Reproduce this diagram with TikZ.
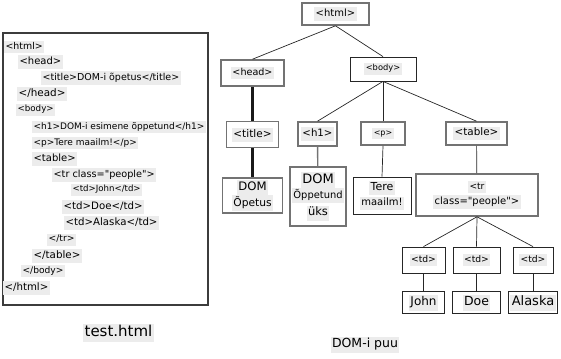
\documentclass[tikz,border=0pt]{standalone}
\usepackage{fontspec}
\setmainfont{DejaVu Sans}[Ligatures=TeXOff]
\usepackage{xcolor}
\usepackage{tikz}
\usetikzlibrary{positioning}
\definecolor{boxgray}{RGB}{115,115,115}
\definecolor{hlgray}{RGB}{236,236,236}
\definecolor{frameline}{RGB}{60,60,60}
\newcommand{\sz}[1]{\fontsize{#1}{#1}\selectfont}
\newcommand{\hl}[1]{{\setlength{\fboxsep}{1.4pt}\colorbox{hlgray}{\strut #1}}}

\begin{document}
\begin{tikzpicture}[x=1pt, y=-1pt,
  gbox/.style={draw=boxgray, line width=1.6pt, fill=white, inner sep=0pt, align=center},
  kbox/.style={draw=black!85, line width=0.8pt, fill=white, inner sep=0pt, align=center},
  codeline/.style={anchor=west, inner sep=0pt},
  conn/.style={draw=black!85, line width=0.7pt},
  fatconn/.style={draw=black!90, line width=2.4pt},
  grayconn/.style={draw=boxgray, line width=1.4pt}
]
\useasboundingbox (0,0) rectangle (561,358);

% source file
\draw[frameline, line width=1.4pt] (3,33) rectangle (208,305);
\node[codeline] (c1) at (4,47) {\sz{9.4}\hl{<html>}};
\node[codeline] (c2) at (18,62) {\sz{10}\hl{<head>}};
\node[codeline] (c3) at (41,78) {\sz{9.5}\hl{<title>DOM-i õpetus</title>}};
\node[codeline] (c4) at (17,94) {\sz{10.4}\hl{</head>}};
\node[codeline] (c5) at (16,110) {\sz{8.7}\hl{<body>}};
\node[codeline] (c6) at (32,127) {\sz{9}\hl{<h1>DOM-i esimene õppetund</h1>}};
\node[codeline] (c7) at (32,143) {\sz{9}\hl{<p>Tere maailm!</p>}};
\node[codeline] (c8) at (32,159) {\sz{10}\hl{<table>}};
\node[codeline] (c9) at (52,175) {\sz{9.7}\hl{<tr class="people">}};
\node[codeline] (c10) at (71,190) {\sz{8.6}\hl{<td>John</td>}};
\node[codeline] (c11) at (62,207) {\sz{10.2}\hl{<td>Doe</td>}};
\node[codeline] (c12) at (64,223) {\sz{10.2}\hl{<td>Alaska</td>}};
\node[codeline] (c13) at (47,240) {\sz{9.2}\hl{</tr>}};
\node[codeline] (c14) at (32,256) {\sz{10.3}\hl{</table>}};
\node[codeline] (c15) at (21,271) {\sz{9.1}\hl{</body>}};
\node[codeline] (c16) at (3,288) {\sz{10.2}\hl{</html>}};
\node[inner sep=0pt] (srcname) at (118.5,333) {\sz{15}\hl{test.html}};

% tree
\node[gbox, minimum width=67pt, minimum height=22pt] (html) at (335.5,14) {\sz{10}\hl{<html>}};
\node[gbox, minimum width=63pt, minimum height=26pt] (head) at (252.5,73) {\sz{9.6}\hl{<head>}};
\node[kbox, minimum width=66pt, minimum height=24pt] (body) at (383,69) {\sz{8.3}\hl{<body>}};
\node[gbox, minimum width=52pt, minimum height=26pt, below=34pt of head] (title) {\sz{10.5}\hl{<title>}};
\node[gbox, minimum width=39pt, minimum height=24pt] (h1) at (317.5,134) {\sz{10.2}\hl{<h1>}};
\node[gbox, minimum width=44pt, minimum height=23pt] (para) at (383,133.5) {\sz{8}\hl{<p>}};
\node[gbox, minimum width=61pt, minimum height=23pt] (table) at (476.5,133.5) {\sz{10.4}\hl{<table>}};

\node[gbox, minimum width=60pt, minimum height=35pt, below=29pt of title] (titletxt)
  {\sz{11.7}\hl{DOM}\\[-1pt]\sz{10.7}\hl{Õpetus}};
\node[gbox, minimum width=56pt, minimum height=59pt] (h1txt) at (318,196.5)
  {\sz{13}\hl{DOM}\\[-2pt]\sz{9.9}\hl{Õppetund}\\[2pt]\sz{11.5}\hl{üks}};
\node[kbox, minimum width=58pt, minimum height=37pt] (paratxt) at (382,195.5)
  {\sz{11}\hl{Tere}\\[1pt]\sz{10}\hl{maailm!}};
\node[gbox, minimum width=122pt, minimum height=42pt] (tr) at (477,195)
  {\sz{9.1}\hl{<tr}\\[1pt]\sz{10}\hl{class="people">}};

\node[kbox, minimum width=43pt, minimum height=26pt] (td1) at (423.5,260) {\sz{9.2}\hl{<td>}};
\node[kbox, minimum width=47pt, minimum height=26pt] (td2) at (476.5,260) {\sz{9.2}\hl{<td>}};
\node[kbox, minimum width=40pt, minimum height=26pt] (td3) at (533,260) {\sz{9.2}\hl{<td>}};
\node[kbox, minimum width=42pt, minimum height=22pt, below=18pt of td1] (john) {\sz{12}\hl{John}};
\node[kbox, minimum width=48pt, minimum height=22pt, below=18pt of td2] (doe) {\sz{12.5}\hl{Doe}};
\node[kbox, minimum width=49pt, minimum height=22pt, below=18pt of td3] (alaska) {\sz{13}\hl{Alaska}};

\node[inner sep=0pt] (treename) at (365,345) {\sz{12.5}\hl{DOM-i puu}};

% edges
\draw[conn] (html.south) -- (head.north);
\draw[conn] (html.south) -- (body.north);
\draw[fatconn] (head) -- (title);
\draw[fatconn] (title) -- (titletxt);
\draw[conn] (body.south) -- (h1.north);
\draw[conn] (body.south) -- (para.north);
\draw[conn] (body.south) -- (table.north);
\draw[grayconn] (h1) -- (h1txt);
\draw[conn] (para.south) -- (paratxt.north);
\draw[conn] (table) -- (tr);
\draw[conn] (tr.south) -- (td1.north);
\draw[conn] (tr.south) -- (td2.north);
\draw[conn] (tr.south) -- (td3.north);
\draw[conn] (td1) -- (john);
\draw[conn] (td2) -- (doe);
\draw[conn] (td3) -- (alaska);
\end{tikzpicture}
\end{document}
